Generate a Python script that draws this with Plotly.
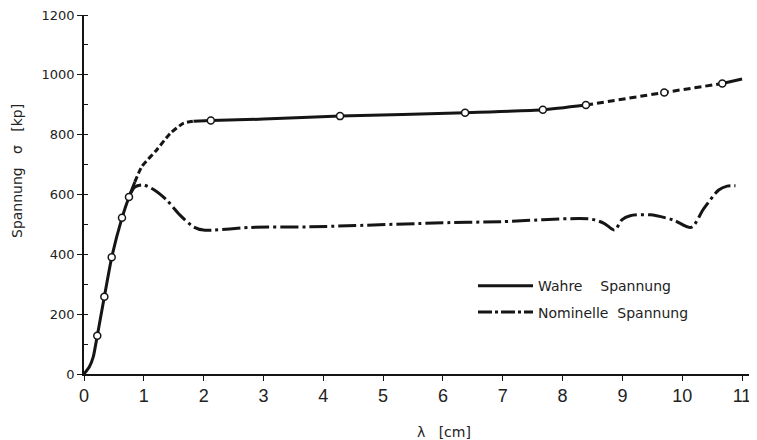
import plotly.graph_objects as go

# ---- data ----
true_x = [0.0, 0.09, 0.156, 0.222, 0.34, 0.463, 0.635, 0.752, 0.85, 0.965, 1.215, 1.44, 1.66, 1.83,
          2.12, 3.0, 4.28, 6.37, 7.67, 8.39, 9.70, 10.67, 11.0]
true_y = [0, 24, 58, 128, 258, 390, 522, 592, 642, 693, 749, 804, 838, 845,
          847, 852, 862, 873, 883, 899, 941, 971, 986]

mark_x = [0.222, 0.34, 0.463, 0.635, 0.752, 2.12, 4.28, 6.37, 7.67, 8.39, 9.70, 10.67]
mark_y = [128, 258, 390, 522, 592, 847, 862, 873, 883, 899, 941, 971]

nom_x = [0.752, 0.85, 0.99, 1.2, 1.38, 1.605, 1.83, 1.995, 2.78, 3.78, 6.12, 6.96, 8.46, 8.7, 8.87,
         8.99, 9.13, 9.46, 9.85, 10.15, 10.36, 10.61, 10.75, 10.89]
nom_y = [592, 625, 632, 612, 582, 531, 492, 481, 490, 492, 506, 509, 518, 503, 481,
         515, 529, 532, 515, 490, 553, 615, 628, 629]

# x positions where the drawn style of the true curve changes: solid, dashed, solid, dashed, solid
true_breaks = [0.0, 0.85, 1.83, 8.39, 10.67, 11.0]
true_dashes = ["solid", "6px,3px", "solid", "7px,4px", "solid"]

x_ticks = list(range(0, 12))
y_ticks = list(range(0, 1201, 200))

legend_names = ["Wahre\u00a0\u00a0\u00a0 Spannung", "Nominelle\u00a0 Spannung"]
x_title = "\u03bb\u00a0\u00a0 [cm]"
y_title = "Spannung\u00a0\u00a0 \u03c3\u00a0\u00a0 [kp]"

INK = "#151515"

# the page body adds an 8px offset; figure sized so that it fills the 757x440 window
PAGE_OFF = 8

fig = go.Figure()

for i, dash in enumerate(true_dashes):
    lo, hi = true_breaks[i], true_breaks[i + 1]
    xs = [x for x in true_x if lo <= x <= hi]
    ys = [y for x, y in zip(true_x, true_y) if lo <= x <= hi]
    fig.add_trace(go.Scatter(x=xs, y=ys, mode="lines", showlegend=False,
                             line=dict(color=INK, width=3, dash=dash, shape="spline", smoothing=0.5),
                             hoverinfo="skip"))

fig.add_trace(go.Scatter(x=nom_x, y=nom_y, mode="lines", showlegend=False,
                         line=dict(color=INK, width=3, dash="18px,4px,3px,4px", shape="spline", smoothing=0.8)))

fig.add_trace(go.Scatter(x=mark_x, y=mark_y, mode="markers", showlegend=False,
                         marker=dict(symbol="circle", size=7, color="white",
                                     line=dict(color=INK, width=1.5))))

# legend-only traces
fig.add_trace(go.Scatter(x=[None], y=[None], mode="lines", name=legend_names[0], legendgroup="a",
                         line=dict(color=INK, width=3)))
fig.add_trace(go.Scatter(x=[None], y=[None], mode="lines", name=legend_names[1], legendgroup="b",
                         line=dict(color=INK, width=3, dash="14px,3px,3px,3px")))

fig.update_layout(
    width=757 - PAGE_OFF, height=440 - PAGE_OFF,
    margin=dict(l=84 - PAGE_OFF, r=0, t=15 - PAGE_OFF, b=66, autoexpand=False),
    paper_bgcolor="white", plot_bgcolor="white",
    font=dict(family="DejaVu Sans", color="#222", size=13),
    legend=dict(x=0.578, y=0.289, xanchor="left", yanchor="top", bgcolor="rgba(0,0,0,0)",
                font=dict(family="DejaVu Sans", size=14, color="#222"),
                itemwidth=55, tracegroupgap=5),
    xaxis=dict(range=[0, 11.25], tickvals=x_ticks, showgrid=False, zeroline=False, automargin=False,
               showline=True, linecolor=INK, linewidth=1.5, ticklabeloverflow="allow",
               ticks="outside", ticklen=5, tickcolor=INK, tickwidth=1.2,
               tickfont=dict(family="Liberation Sans Narrow, Liberation Sans", size=18, color="#222")),
    yaxis=dict(range=[0, 1200], tickvals=y_ticks, showgrid=False, zeroline=False, automargin=False,
               showline=True, linecolor=INK, linewidth=1.5, ticklabeloverflow="allow",
               ticks="outside", ticklen=5, tickcolor=INK, tickwidth=1.2,
               minor=dict(dtick=100, ticks="inside", ticklen=4, tickcolor=INK, showgrid=False),
               tickfont=dict(family="DejaVu Sans", size=13, color="#222")),
    annotations=[
        dict(text=x_title, xref="paper", yref="paper", x=(444 - 84) / 673, y=-(432 - 374) / 359,
             xanchor="center", yanchor="middle", showarrow=False,
             font=dict(family="DejaVu Sans", size=14, color="#222")),
        dict(text=y_title, xref="paper", yref="paper", x=(17 - 84) / 673, y=(374 - 171) / 359,
             xanchor="center", yanchor="middle", showarrow=False, textangle=-90,
             font=dict(family="DejaVu Sans", size=14, color="#222")),
    ],
)

fig.write_html("out.html")
